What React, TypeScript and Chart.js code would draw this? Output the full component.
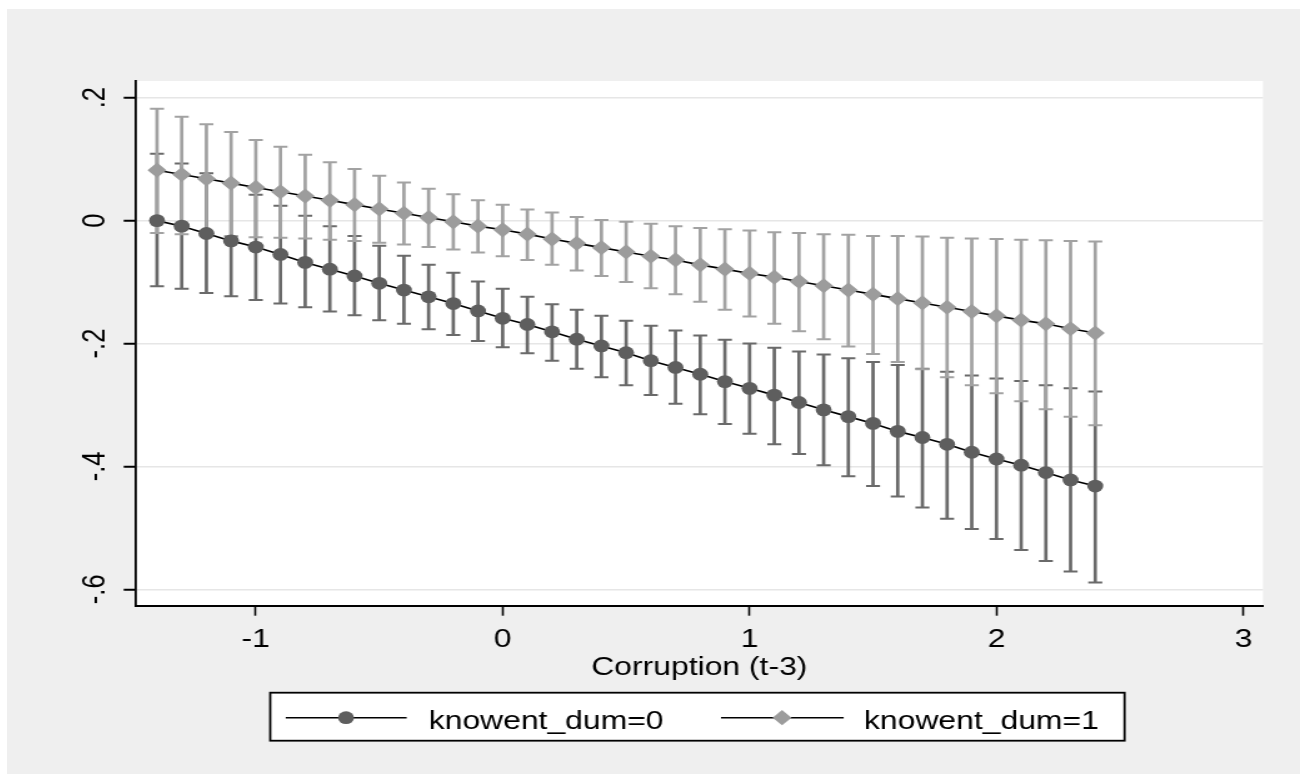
import React, { useEffect, useRef } from 'react';
import { Chart, registerables } from 'chart.js';

Chart.register(...registerables);

// ---------------- data ----------------
const xValues = [
  -1.4, -1.3, -1.2, -1.1, -1.0, -0.9, -0.8, -0.7, -0.6, -0.5,
  -0.4, -0.3, -0.2, -0.1, 0.0, 0.1, 0.2, 0.3, 0.4, 0.5,
  0.6, 0.7, 0.8, 0.9, 1.0, 1.1, 1.2, 1.3, 1.4, 1.5,
  1.6, 1.7, 1.8, 1.9, 2.0, 2.1, 2.2, 2.3, 2.4,
];

const seriesLabels = ['knowent_dum=0', 'knowent_dum=1'];

const mean0 = [
  0.0, -0.009, -0.021, -0.033, -0.043, -0.055, -0.068, -0.079, -0.09, -0.102,
  -0.113, -0.124, -0.135, -0.147, -0.159, -0.169, -0.181, -0.193, -0.204, -0.215,
  -0.228, -0.239, -0.25, -0.262, -0.273, -0.284, -0.296, -0.308, -0.319, -0.33,
  -0.343, -0.353, -0.364, -0.377, -0.388, -0.398, -0.41, -0.422, -0.432,
];
const upper0 = [
  0.109, 0.093, 0.077, 0.06, 0.042, 0.024, 0.008, -0.009, -0.025, -0.041,
  -0.057, -0.072, -0.085, -0.099, -0.111, -0.124, -0.136, -0.145, -0.155, -0.163,
  -0.171, -0.179, -0.187, -0.194, -0.2, -0.207, -0.213, -0.218, -0.224, -0.23,
  -0.235, -0.241, -0.246, -0.252, -0.257, -0.261, -0.268, -0.273, -0.278,
];
const lower0 = [
  -0.107, -0.111, -0.118, -0.123, -0.129, -0.135, -0.141, -0.148, -0.154, -0.162,
  -0.168, -0.177, -0.186, -0.196, -0.206, -0.216, -0.228, -0.241, -0.255, -0.268,
  -0.284, -0.298, -0.315, -0.331, -0.347, -0.364, -0.38, -0.398, -0.416, -0.432,
  -0.449, -0.467, -0.485, -0.502, -0.518, -0.536, -0.554, -0.571, -0.589,
];

const mean1 = [
  0.082, 0.075, 0.068, 0.061, 0.054, 0.047, 0.04, 0.033, 0.026, 0.019,
  0.012, 0.005, -0.002, -0.009, -0.015, -0.022, -0.03, -0.037, -0.044, -0.051,
  -0.058, -0.064, -0.072, -0.079, -0.086, -0.092, -0.099, -0.106, -0.113, -0.12,
  -0.127, -0.134, -0.141, -0.148, -0.155, -0.162, -0.168, -0.176, -0.183,
];
const upper1 = [
  0.182, 0.169, 0.157, 0.144, 0.131, 0.12, 0.107, 0.095, 0.084, 0.073,
  0.062, 0.052, 0.043, 0.033, 0.026, 0.018, 0.013, 0.006, 0.001, -0.002,
  -0.005, -0.009, -0.012, -0.014, -0.016, -0.019, -0.02, -0.022, -0.023, -0.025,
  -0.025, -0.026, -0.028, -0.029, -0.03, -0.031, -0.032, -0.033, -0.034,
];
const lower1 = [
  -0.02, -0.022, -0.024, -0.025, -0.027, -0.028, -0.029, -0.031, -0.033, -0.036,
  -0.039, -0.043, -0.047, -0.052, -0.058, -0.064, -0.072, -0.081, -0.09, -0.1,
  -0.11, -0.12, -0.132, -0.145, -0.156, -0.168, -0.18, -0.193, -0.205, -0.217,
  -0.23, -0.242, -0.255, -0.268, -0.281, -0.294, -0.307, -0.319, -0.333,
];

const xTicks = [-1, 0, 1, 2, 3];
const yTicks = [-0.6, -0.4, -0.2, 0, 0.2];
const yTickLabels = ['-.6', '-.4', '-.2', '0', '.2'];
const xTitle = 'Corruption (t-3)';

// ---------------- layout / style ----------------
const BOX_LEFT = 7;
const BOX_TOP = 9;
const BOX_W = 1293;
const BOX_H = 765;
const CW = 1034;
const CH = 765;
const SX = BOX_W / CW;
const FONT = '"Liberation Sans", Arial, Helvetica, sans-serif';
const FS = 25.5;

const PLOT_LEFT = 102.9;
const PLOT_RIGHT = 1004.4;
const PLOT_TOP = 72;
const PLOT_BOTTOM = 596.7;
const X_AXIS_H = 60;

const COL0_MARK = '#5e5e5e';
const COL0_BAR = '#6a6a6a';
const COL1_MARK = '#9c9c9c';
const COL1_BAR = '#a2a2a2';

export default function App() {
  const ref = useRef<HTMLCanvasElement | null>(null);

  useEffect(() => {
    const canvas = ref.current;
    if (!canvas) return;

    const bars = [
      { lo: lower0, hi: upper0, color: COL0_BAR },
      { lo: lower1, hi: upper1, color: COL1_BAR },
    ];

    const errorBarPlugin = {
      id: 'errorBars',
      beforeDatasetsDraw(chart: any) {
        const ctx = chart.ctx;
        const xs = chart.scales.x;
        const ys = chart.scales.y;
        ctx.save();
        bars.forEach((b) => {
          ctx.strokeStyle = b.color;
          xValues.forEach((xv, i) => {
            const px = xs.getPixelForValue(xv);
            const pl = ys.getPixelForValue(b.lo[i]);
            const ph = ys.getPixelForValue(b.hi[i]);
            ctx.lineWidth = 2.7;
            ctx.beginPath();
            ctx.moveTo(px, ph);
            ctx.lineTo(px, pl);
            ctx.stroke();
            ctx.lineWidth = 2;
            ctx.beginPath();
            ctx.moveTo(px - 5.6, ph);
            ctx.lineTo(px + 5.6, ph);
            ctx.moveTo(px - 5.6, pl);
            ctx.lineTo(px + 5.6, pl);
            ctx.stroke();
          });
        });
        ctx.restore();
      },
    };

    const decorPlugin = {
      id: 'decor',
      beforeDraw(chart: any) {
        const ctx = chart.ctx;
        const a = chart.chartArea;
        ctx.save();
        ctx.fillStyle = '#efefef';
        ctx.fillRect(0, 0, chart.width, chart.height);
        ctx.fillStyle = '#ffffff';
        ctx.fillRect(a.left, a.top, a.right - a.left, a.bottom - a.top);
        ctx.restore();
      },
      afterDraw(chart: any) {
        const ctx = chart.ctx;
        const a = chart.chartArea;
        const ys = chart.scales.y;
        ctx.save();
        ctx.fillStyle = '#000';
        ctx.font = `${FS}px ${FONT}`;
        // rotated y tick labels
        yTicks.forEach((v, i) => {
          const py = ys.getPixelForValue(v);
          ctx.save();
          ctx.translate(77.6, py);
          ctx.rotate(-Math.PI / 2);
          ctx.textAlign = 'center';
          ctx.textBaseline = 'alphabetic';
          ctx.fillText(yTickLabels[i], 0, 0);
          ctx.restore();
        });
        // x title
        ctx.textAlign = 'center';
        ctx.textBaseline = 'alphabetic';
        ctx.fillText(xTitle, (a.left + a.right) / 2, 666);

        // legend
        const bx0 = 210.5, bx1 = 893.7, by0 = 683.7, by1 = 731.7;
        ctx.fillStyle = '#fff';
        ctx.fillRect(bx0, by0, bx1 - bx0, by1 - by0);
        ctx.strokeStyle = '#000';
        ctx.lineWidth = 1.8;
        ctx.strokeRect(bx0, by0, bx1 - bx0, by1 - by0);
        const ly = 708.7;
        const items = [
          { l0: 222.9, l1: 319.6, mx: 271.1, tx: 337.2, style: 'circle', color: COL0_MARK },
          { l0: 571.0, l1: 669.1, mx: 619.8, tx: 685.3, style: 'diamond', color: COL1_MARK },
        ];
        items.forEach((it, k) => {
          ctx.strokeStyle = '#000';
          ctx.lineWidth = 1.6;
          ctx.beginPath();
          ctx.moveTo(it.l0, ly);
          ctx.lineTo(it.l1, ly);
          ctx.stroke();
          ctx.fillStyle = it.color;
          ctx.beginPath();
          if (it.style === 'circle') {
            ctx.arc(it.mx, ly, 6.4, 0, Math.PI * 2);
          } else {
            const r = 7.6;
            ctx.moveTo(it.mx - r, ly);
            ctx.lineTo(it.mx, ly - r);
            ctx.lineTo(it.mx + r, ly);
            ctx.lineTo(it.mx, ly + r);
            ctx.closePath();
          }
          ctx.fill();
          ctx.fillStyle = '#000';
          ctx.textAlign = 'left';
          ctx.textBaseline = 'alphabetic';
          ctx.fillText(chart.data.datasets[k].label, it.tx, 720);
        });
        ctx.restore();
      },
    };

    const chart = new Chart(canvas, {
      type: 'line',
      data: {
        datasets: [
          {
            label: seriesLabels[0],
            data: xValues.map((x, i) => ({ x, y: mean0[i] })),
            borderColor: '#000',
            borderWidth: 1.6,
            pointStyle: 'circle',
            pointRadius: 6.4,
            pointBackgroundColor: COL0_MARK,
            pointBorderWidth: 0,
            pointBorderColor: COL0_MARK,
            fill: false,
            tension: 0,
          },
          {
            label: seriesLabels[1],
            data: xValues.map((x, i) => ({ x, y: mean1[i] })),
            borderColor: '#000',
            borderWidth: 1.6,
            pointStyle: 'rectRot',
            pointRadius: 7.6,
            pointBackgroundColor: COL1_MARK,
            pointBorderWidth: 0,
            pointBorderColor: COL1_MARK,
            fill: false,
            tension: 0,
          },
        ],
      },
      options: {
        animation: false,
        responsive: false,
        devicePixelRatio: 1,
        events: [],
        layout: {
          padding: {
            top: PLOT_TOP,
            left: 0,
            right: CW - PLOT_RIGHT,
            bottom: CH - PLOT_BOTTOM - X_AXIS_H,
          },
        },
        plugins: {
          legend: { display: false },
          title: { display: false },
          tooltip: { enabled: false },
        },
        scales: {
          x: {
            type: 'linear',
            position: 'bottom',
            min: -1.4864,
            max: 3.0794,
            afterBuildTicks: (s: any) => {
              s.ticks = xTicks.map((v) => ({ value: v }));
            },
            afterFit: (s: any) => {
              s.height = X_AXIS_H;
            },
            ticks: {
              color: '#000',
              font: { family: FONT, size: FS },
              padding: 9,
              maxRotation: 0,
              minRotation: 0,
              autoSkip: false,
              callback: (v: any) => String(v),
            },
            grid: {
              drawOnChartArea: false,
              drawTicks: true,
              tickLength: 10,
              tickColor: '#000',
              tickWidth: 1.6,
            },
            border: { display: true, color: '#000', width: 2 },
          },
          y: {
            type: 'linear',
            position: 'left',
            min: -0.6267,
            max: 0.2272,
            afterBuildTicks: (s: any) => {
              s.ticks = yTicks.map((v) => ({ value: v }));
            },
            afterFit: (s: any) => {
              s.width = PLOT_LEFT;
            },
            ticks: { display: false },
            grid: {
              color: '#e6e6e6',
              lineWidth: 1.5,
              drawTicks: true,
              tickLength: 9.6,
              tickColor: '#000',
              tickWidth: 2,
            },
            border: { display: true, color: '#000', width: 1.8 },
          },
        },
      },
      plugins: [errorBarPlugin, decorPlugin],
    });

    return () => {
      chart.destroy();
    };
  }, []);

  return (
    <div
      style={{
        position: 'absolute',
        left: BOX_LEFT,
        top: BOX_TOP,
        width: BOX_W,
        height: BOX_H,
        background: '#efefef',
        overflow: 'hidden',
      }}
    >
      <div
        style={{
          width: CW,
          height: CH,
          transform: `scaleX(${SX})`,
          transformOrigin: '0 0',
        }}
      >
        <canvas ref={ref} width={CW} height={CH} style={{ width: CW, height: CH, display: 'block' }} />
      </div>
    </div>
  );
}
